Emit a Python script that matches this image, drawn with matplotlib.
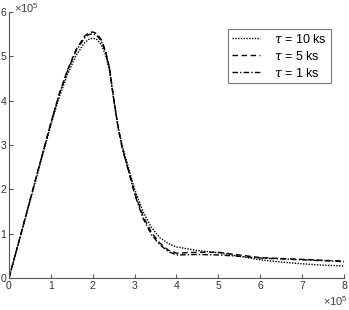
import matplotlib
matplotlib.use("Agg")
import matplotlib.pyplot as plt

plt.rcParams['font.family'] = ['Liberation Sans', 'DejaVu Sans']
plt.rcParams['mathtext.fontset'] = 'custom'
plt.rcParams['mathtext.it'] = 'DejaVu Serif:italic'
plt.rcParams['mathtext.rm'] = 'Liberation Sans'

x = [0, 0.5, 1.0, 1.2, 1.4, 1.6, 1.8, 1.9, 2.0, 2.1, 2.2, 2.3, 2.4, 2.5, 2.6, 2.7, 2.85,
     3.0, 3.2, 3.4, 3.6, 3.8, 4.0, 4.5, 5.0, 5.5, 6.0, 6.5, 7.0, 7.5, 8.0]
y_10ks = [0, 1.72, 3.45, 4.08, 4.6, 5.02, 5.3, 5.38, 5.41, 5.38, 5.27, 5.05, 4.68, 4.03, 3.45, 3.0, 2.5,
          2.0, 1.5, 1.14, 0.91, 0.78, 0.70, 0.62, 0.57, 0.49, 0.41, 0.36, 0.32, 0.29, 0.27]
y_5ks = [0, 1.75, 3.5, 4.15, 4.7, 5.15, 5.45, 5.53, 5.55, 5.51, 5.38, 5.14, 4.74, 4.05, 3.43, 2.96, 2.45,
         1.93, 1.4, 1.03, 0.79, 0.63, 0.56, 0.58, 0.58, 0.52, 0.46, 0.44, 0.42, 0.40, 0.38]
y_1ks = [0, 1.75, 3.5, 4.15, 4.68, 5.12, 5.41, 5.49, 5.51, 5.47, 5.35, 5.11, 4.72, 4.03, 3.41, 2.94, 2.42,
         1.89, 1.35, 0.98, 0.75, 0.6, 0.52, 0.53, 0.52, 0.49, 0.45, 0.43, 0.41, 0.39, 0.37]
labels = [r'$\tau$ = 10 ks', r'$\tau$ = 5 ks', r'$\tau$ = 1 ks']

fig = plt.figure(figsize=(3.49, 3.10), dpi=100)
ax = fig.add_axes([9/349, 32/310, 335/349, 266/310])

scale = 1e5
ax.plot([v * scale for v in x], [v * scale for v in y_10ks], color='black', lw=1.0,
        linestyle=(0, (1, 1)), label=labels[0])
ax.plot([v * scale for v in x], [v * scale for v in y_5ks], color='black', lw=1.0,
        linestyle=(0, (4, 2.5)), label=labels[1])
ax.plot([v * scale for v in x], [v * scale for v in y_1ks], color='black', lw=1.0,
        linestyle=(0, (4, 1.5, 1, 1.5)), label=labels[2])

ax.set_xlim(0, 8e5)
ax.set_ylim(0, 6e5)
ax.set_xticks([i * 1e5 for i in range(9)])
ax.set_xticklabels([str(i) for i in range(9)])
ax.set_yticks([i * 1e5 for i in range(7)])
ax.set_yticklabels([str(i) for i in range(7)])

gray = '#555555'
for s in ['top', 'right']:
    ax.spines[s].set_visible(False)
for s in ['left', 'bottom']:
    ax.spines[s].set_color(gray)
    ax.spines[s].set_linewidth(0.8)
ax.tick_params(direction='in', length=3, width=0.8, colors=gray, labelsize=7.5,
               pad=2, labelcolor='#333333')

fig.text(14/349, 1 - 15/310, r'$\times\mathregular{10^5}$', fontsize=8,
         color='#444444', va='bottom', ha='left')
fig.text(1 - 1/349, 1 - 308/310, r'$\times\mathregular{10^5}$', fontsize=8,
         color='#444444', va='bottom', ha='right')

leg = ax.legend(loc='upper left', bbox_to_anchor=((228 - 9) / 335, (278 - 29) / 266),
                fontsize=9, handlelength=2.3, handletextpad=1.1, borderpad=0.3,
                borderaxespad=0, labelspacing=0.35, fancybox=False, framealpha=1)
leg.get_frame().set_edgecolor('#777777')
leg.get_frame().set_linewidth(0.8)

fig.savefig('out.png', dpi=100)
